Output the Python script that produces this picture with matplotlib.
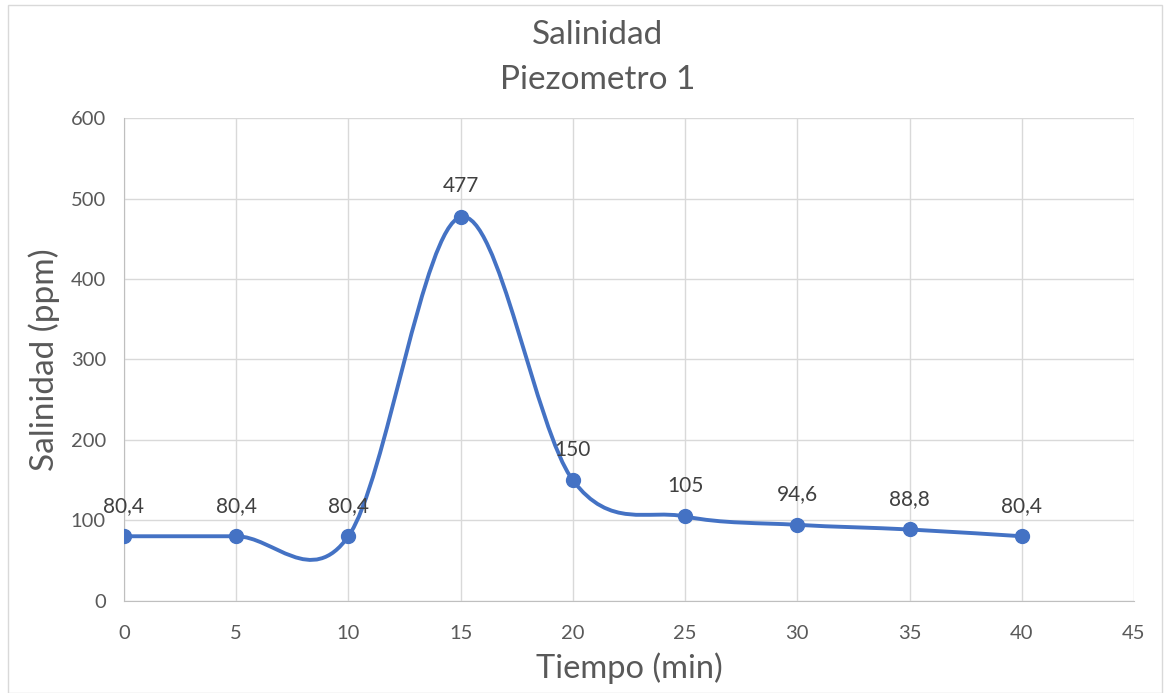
import numpy as np
import matplotlib
matplotlib.use("Agg")
import matplotlib.pyplot as plt
from matplotlib.path import Path
from matplotlib.patches import PathPatch, Rectangle

plt.rcParams["font.family"] = ["Lato", "DejaVu Sans"]

tiempo = [0, 5, 10, 15, 20, 25, 30, 35, 40]
salinidad = [80.4, 80.4, 80.4, 477, 150, 105, 94.6, 88.8, 80.4]
etiquetas = ["80,4", "80,4", "80,4", "477", "150", "105", "94,6", "88,8", "80,4"]

BLUE = "#4472C4"
GREY_TXT = "#595959"
GRID = "#D9D9D9"


def smooth_path(x, y):
    # Excel-style smoothed line: cubic bezier segments (Catmull-Rom controls)
    pts = np.column_stack([x, y]).astype(float)
    n = len(pts)
    verts = [pts[0]]
    codes = [Path.MOVETO]
    for i in range(n - 1):
        p0 = pts[max(i - 1, 0)]
        p1 = pts[i]
        p2 = pts[i + 1]
        p3 = pts[min(i + 2, n - 1)]
        c1 = p1 + (p2 - p0) / 6
        c2 = p2 - (p3 - p1) / 6
        verts += [c1, c2, p2]
        codes += [Path.CURVE4] * 3
    return Path(verts, codes)


fig = plt.figure(figsize=(11.65, 6.93), dpi=100)
ax = fig.add_axes([0.1064, 0.1328, 0.867, 0.6969])

ax.add_patch(PathPatch(smooth_path(tiempo, salinidad), facecolor="none",
                       edgecolor=BLUE, linewidth=2.8, zorder=3))
ax.plot(tiempo, salinidad, "o", color=BLUE, markersize=10, zorder=4)

for xv, yv, lab in zip(tiempo, salinidad, etiquetas):
    ax.annotate(lab, (xv, yv), xytext=(0, 22), textcoords="offset points",
                ha="center", va="center", fontsize=15, color="#404040", zorder=5)

ax.set_xlim(0, 45)
ax.set_ylim(0, 600)
ax.set_xticks(range(0, 46, 5))
ax.set_yticks(range(0, 601, 100))
ax.grid(True, color=GRID, linewidth=1)
ax.set_axisbelow(True)
for side in ["top", "right"]:
    ax.spines[side].set_visible(False)
for side in ["left", "bottom"]:
    ax.spines[side].set_color("#BFBFBF")
ax.tick_params(length=0, labelsize=14.5, labelcolor=GREY_TXT)
ax.tick_params(axis="x", pad=17)
ax.tick_params(axis="y", pad=13)

ax.set_xlabel("Tiempo (min)", fontsize=23.5, color=GREY_TXT, labelpad=8)
ax.set_ylabel("Salinidad (ppm)", fontsize=24, color=GREY_TXT, labelpad=8)
fig.text(0.513, 0.95, "Salinidad", ha="center", va="center",
         fontsize=24, color=GREY_TXT)
fig.text(0.513, 0.885, "Piezometro 1", ha="center", va="center",
         fontsize=24, color=GREY_TXT)

fig.patches.append(Rectangle((0.007, 0.0), 0.99, 0.993, transform=fig.transFigure,
                             facecolor="none", edgecolor="#D9D9D9", linewidth=1))

fig.savefig("out.png", dpi=100)
